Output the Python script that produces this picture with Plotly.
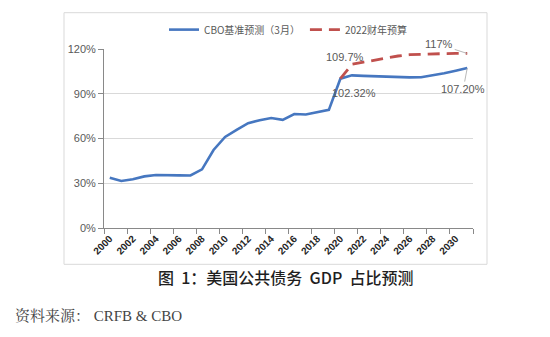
import plotly.graph_objects as go

years = list(range(2000, 2032))
cbo_baseline = [33.7, 31.5, 32.7, 34.6, 35.5, 35.6, 35.3, 35.2, 39.3, 52.3,
                61.0, 65.8, 70.3, 72.2, 73.7, 72.5, 76.4, 76.1, 77.4, 79.2,
                100.1, 102.32, 102.0, 101.7, 101.4, 101.2, 101.0, 101.1, 102.2,
                103.7, 105.4, 107.2]
budget_years = list(range(2020, 2032))
budget_2022 = [100.1, 109.7, 111.2, 112.7, 114.1, 115.3, 116.2, 116.6, 116.8,
               116.9, 117.0, 117.0]
x_tick_vals = list(range(2000, 2031, 2))
y_tick_vals = [0, 30, 60, 90, 120]
y_tick_text = ["0%", "30%", "60%", "90%", "120%"]

BLUE = "#4677C0"
RED = "#C0504D"
GRAY = "#595959"
TICKFONT = "Liberation Sans Narrow, Arial Narrow, Liberation Sans, Arial, sans-serif"
CJK = "Noto Sans CJK SC, sans-serif"

fig = go.Figure()
fig.add_trace(go.Scatter(x=years, y=cbo_baseline, mode="lines",
                         name="CBO基准预测（3月）",
                         line=dict(color=BLUE, width=2.6)))
fig.add_trace(go.Scatter(x=budget_years, y=budget_2022, mode="lines",
                         name="2022财年预算",
                         line=dict(color=RED, width=2.8, dash="12px,7px")))

L, R, T, B = 104, 473, 48.5, 228.5
W, H = R - L, B - T

def px(xp):
    return (xp - L) / W

def py(yp):
    return (B - yp) / H

fig.update_layout(
    width=550, height=337,
    margin=dict(l=L, r=550 - R, t=T, b=337 - B, pad=0),
    paper_bgcolor="white", plot_bgcolor="white",
    showlegend=True,
    legend=dict(orientation="h", x=0.5, xanchor="center", y=py(29), yanchor="middle",
                font=dict(family=CJK, size=10, color=GRAY),
                bgcolor="rgba(0,0,0,0)", itemwidth=30, tracegroupgap=0),
    xaxis=dict(range=[1999.5, 2031.5], tickvals=x_tick_vals,
               ticktext=[str(v) for v in x_tick_vals], tickangle=-45,
               ticks="", showgrid=False, zeroline=False,
               showline=True, linecolor="#898989", linewidth=1,
               tickfont=dict(family="Liberation Sans, Arial, sans-serif", size=10,
                             color="#262626", weight="bold"),
               minor=dict(tickmode="linear", tick0=1999.5, dtick=2, ticks="outside",
                          ticklen=5, tickcolor="#898989", showgrid=False)),
    yaxis=dict(range=[0, 120], tickvals=y_tick_vals, ticktext=y_tick_text,
               ticks="outside", ticklen=5, tickcolor="#898989",
               showline=True, linecolor="#898989", linewidth=1,
               showgrid=True, gridcolor="#D9D9D9", gridwidth=1, zeroline=False,
               tickfont=dict(family=TICKFONT, size=11, color=GRAY)),
)

# chart frame
fig.add_shape(type="rect", xref="paper", yref="paper",
              x0=px(64), x1=px(487), y0=py(265), y1=py(12),
              line=dict(color="#D9D9D9", width=1), layer="below")

lab_font = dict(family=TICKFONT, size=11, color=GRAY)
fig.add_annotation(x=2021, y=102.32, text="102.32%", showarrow=True, arrowhead=0,
                   arrowwidth=0.8, arrowcolor="#A6A6A6", ax=2, ay=18, font=lab_font)
fig.add_annotation(x=2031, y=107.2, text="107.20%", showarrow=True, arrowhead=0,
                   arrowwidth=0.8, arrowcolor="#A6A6A6", ax=-4, ay=21, font=lab_font)
fig.add_annotation(x=2021, y=109.7, text="109.7%", showarrow=False,
                   xshift=-7, yshift=7, font=lab_font)
fig.add_annotation(x=2031, y=117, text="117%", showarrow=True, arrowhead=0,
                   arrowwidth=0.8, arrowcolor="#A6A6A6", ax=-28, ay=-9, font=lab_font)

# caption and source
fig.add_annotation(xref="paper", yref="paper", x=px(286), y=py(278),
                   xanchor="center", yanchor="middle", showarrow=False,
                   text="图&nbsp;&nbsp;1：美国公共债务&nbsp;&nbsp;GDP&nbsp;&nbsp;占比预测",
                   font=dict(family=CJK, size=16, color="#1f1f1f", weight=500))
fig.add_annotation(xref="paper", yref="paper", x=px(13), y=py(317),
                   xanchor="left", yanchor="middle", showarrow=False,
                   text="资料来源：&nbsp;CRFB & CBO",
                   font=dict(family="Liberation Serif, Noto Serif CJK SC, Noto Sans CJK SC, serif",
                             size=15, color="#444444"))

fig.write_html("out.html")
